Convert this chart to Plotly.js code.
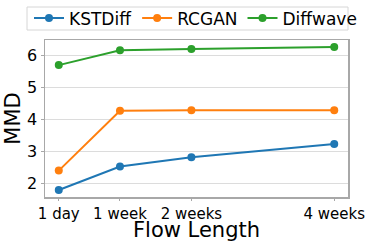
<!DOCTYPE html>
<html>
<head>
<meta charset="utf-8">
<script src="https://cdn.plot.ly/plotly-3.0.1.min.js"></script>
<style>html,body{margin:0;padding:0;background:#fff;}#chart{width:374px;height:249px;}</style>
</head>
<body>
<div id="chart"></div>
<script>
const flowDays = [1, 7, 14, 28];
const tickLabels = ["1 day", "1 week", "2 weeks", "4 weeks"];
const seriesNames = ["KSTDiff", "RCGAN", "Diffwave"];
const kstdiff = [1.78, 2.52, 2.81, 3.23];
const rcgan = [2.39, 4.27, 4.29, 4.29];
const diffwave = [5.71, 6.18, 6.22, 6.28];
const colors = ["#1f77b4", "#ff7f0e", "#2ca02c"];
const xTitle = "Flow Length";
const yTitle = "MMD";

const values = [kstdiff, rcgan, diffwave];
const traces = values.map((v, i) => ({
  x: flowDays, y: v, name: seriesNames[i], type: "scatter", mode: "lines+markers",
  line: {color: colors[i], width: 2},
  marker: {color: colors[i], size: 8}
}));

// pixel -> paper helpers (plot area spans x 45..348, y 40..197)
const W = 374, H = 249, ML = 45, MR = 26, MT = 40, MB = 52;
const pw = W - ML - MR, ph = H - MT - MB;
const px = p => (p - ML) / pw;
const py = p => (H - MB - p) / ph;

const font = "DejaVu Sans, sans-serif";
const layout = {
  width: W, height: H,
  margin: {l: ML, r: MR, t: MT, b: MB, autoexpand: false},
  paper_bgcolor: "#fff", plot_bgcolor: "#fff",
  font: {family: font, color: "#000", size: 15},
  showlegend: true,
  legend: {
    orientation: "h", xref: "paper", yref: "paper",
    x: px(29), xanchor: "left", y: py(0.5), yanchor: "top",
    font: {family: font, size: 17, color: "#000"},
    borderwidth: 0, bgcolor: "rgba(0,0,0,0)",
    itemwidth: 28, tracegroupgap: 0
  },
  shapes: [{
    type: "rect", xref: "paper", yref: "paper",
    x0: px(27), x1: px(348), y0: py(30), y1: py(7),
    line: {color: "#d6d6d6", width: 1}, fillcolor: "rgba(255,255,255,0)", layer: "above"
  }],
  annotations: [{
    text: xTitle, xref: "paper", yref: "paper", x: 0.5, y: py(230),
    xanchor: "center", yanchor: "middle", showarrow: false,
    font: {family: font, size: 21, color: "#000"}
  }],
  xaxis: {
    type: "linear", range: [-0.35, 29.35],
    tickvals: flowDays, ticktext: tickLabels,
    showgrid: false, zeroline: false,
    showline: true, mirror: true, linecolor: "#a8a8a8", linewidth: 1.5,
    ticks: "outside", ticklen: 2, tickcolor: "#a8a8a8", tickwidth: 1,
    tickfont: {family: font, size: 15, color: "#000"}
  },
  yaxis: {
    range: [1.56, 6.5],
    tickvals: [2, 3, 4, 5, 6],
    showgrid: true, gridcolor: "#dcdcdc", gridwidth: 1, zeroline: false,
    showline: true, mirror: true, linecolor: "#a8a8a8", linewidth: 1.5,
    ticks: "outside", ticklen: 3, tickcolor: "#a8a8a8", tickwidth: 1,
    tickfont: {family: font, size: 16, color: "#000"},
    title: {text: yTitle, font: {family: font, size: 21, color: "#000"}, standoff: 1}
  }
};

Plotly.newPlot("chart", traces, layout, {displayModeBar: false, staticPlot: true});
</script>
</body>
</html>
